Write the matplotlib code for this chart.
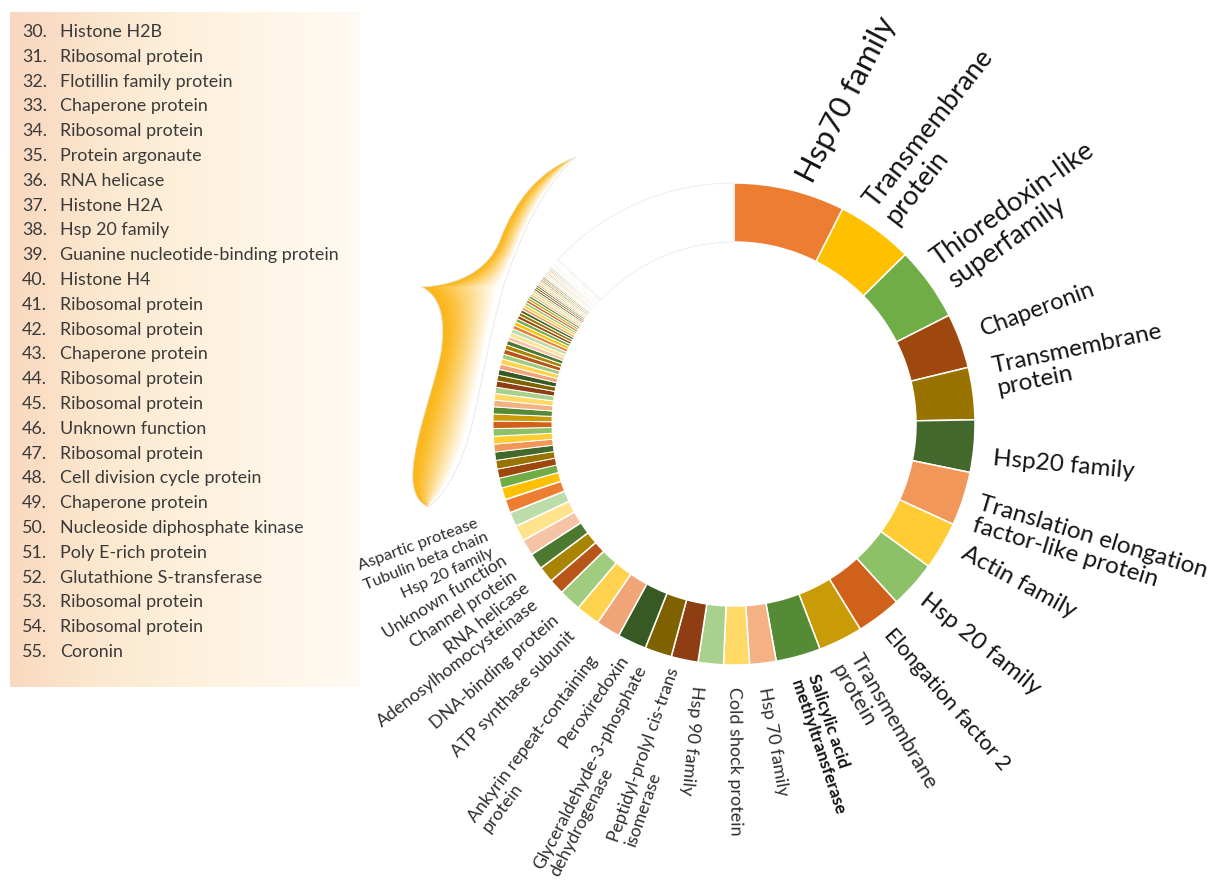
import numpy as np
import matplotlib
matplotlib.use("Agg")
import matplotlib.pyplot as plt
from matplotlib.path import Path
from matplotlib.patches import PathPatch
from matplotlib.colors import to_rgb

W, H = 1216, 882

# ---------------- data ----------------
ring_labels = [
    "Hsp70 family", "Transmembrane\nprotein", "Thioredoxin-like\nsuperfamily",
    "Chaperonin", "Transmembrane\nprotein", "Hsp20 family",
    "Translation elongation\nfactor-like protein", "Actin family", "Hsp 20 family",
    "Elongation factor 2", "Transmembrane\nprotein", "Salicylic acid\nmethyltransferase",
    "Hsp 70 family", "Cold shock protein", "Hsp 90 family",
    "Peptidyl-prolyl cis-trans\nisomerase", "Glyceraldehyde-3-phosphate\ndehydrogenase",
    "Peroxiredoxin", "Ankyrin repeat-containing\nprotein", "ATP synthase subunit",
    "DNA-binding protein", "Adenosylhomocysteinase", "RNA helicase",
    "Channel protein", "Unknown function", "Hsp 20 family", "Tubulin beta chain",
    "Aspartic protease", "",
]
ring_values = [26.8, 18.5, 17.9, 13.2, 12.6, 12.6, 13.0, 11.6, 11.4, 10.8,
               10.7, 10.8, 6.4, 6.2, 6.1, 6.5, 6.5, 7.0, 5.9, 5.8,
               5.4, 3.7, 3.9, 3.9, 3.9, 3.8, 3.5, 3.3, 2.9]

legend_numbers = [30, 31, 32, 33, 34, 35, 36, 37, 38, 39, 40, 41, 42,
                  43, 44, 45, 46, 47, 48, 49, 50, 51, 52, 53, 54, 55]
legend_names = [
    "Histone H2B", "Ribosomal protein", "Flotillin family protein", "Chaperone protein",
    "Ribosomal protein", "Protein argonaute", "RNA helicase", "Histone H2A",
    "Hsp 20 family", "Guanine nucleotide-binding protein", "Histone H4",
    "Ribosomal protein", "Ribosomal protein", "Chaperone protein", "Ribosomal protein",
    "Ribosomal protein", "Unknown function", "Ribosomal protein",
    "Cell division cycle protein", "Chaperone protein", "Nucleoside diphosphate kinase",
    "Poly E-rich protein", "Glutathione S-transferase", "Ribosomal protein",
    "Ribosomal protein", "Coronin",
]
legend_values = [2.4, 2.2, 2.1, 2.0, 1.9, 1.9, 1.8, 1.8, 1.7, 1.7, 1.6, 1.6, 1.5,
                 1.5, 1.4, 1.4, 1.3, 1.3, 1.2, 1.2, 1.1, 1.1, 1.0, 1.0, 1.0, 0.9]
tail_values = [0.9, 0.85, 0.8, 0.8, 0.75, 0.7, 0.7, 0.65, 0.65, 0.6, 0.6, 0.55,
               0.55, 0.5, 0.5, 0.5, 0.45, 0.45, 0.45, 0.4, 0.4, 0.4, 0.4, 0.35,
               0.35, 0.35, 0.35, 0.3, 0.3, 0.3, 0.3, 0.3, 0.25, 0.25, 0.25, 0.25,
               0.25, 0.2, 0.2, 0.2, 0.2, 0.2, 0.2]
others_value = 46.9

palette = ["#ED7D31", "#FFC000", "#70AD47", "#9E480E", "#997300", "#43682B",
           "#F1975A", "#FFCD33", "#8CC168", "#D0611B", "#C99B06", "#558A37",
           "#F4B183", "#FFD966", "#A9D18E", "#8E3E12", "#7F6200", "#375A24",
           "#F2A479", "#FFD34D", "#A0CC80", "#B8561A", "#A88400", "#4C7830",
           "#F6C3A5", "#FFE38C", "#BCDDAA"]

# ---------------- label layout ----------------
lab_gap = [13, 16, 17, 24, 24, 20, 17, 21, 16, 17, 20, 22, 24, 22, 23,
           11, 19, 16, 32, 23, 22, 25, 22, 25, 25, 32, 30, 34]
lab_ang_adj = [2.8, -1.4, -0.3, -0.6, -2.7, 2.2, 2.3, -1.3, 0.8, 0.5, 1.0, 0.0,
               0.5, 0.6, 2.5, -0.1, 0.4, 0.0, -2.5, 0.2, -0.6, 0.2, 0.5, 0.2,
               0.2, -1.0, -1.2, -1.1]
lab_rot_adj = [-14, -2, 0, 0, 4.5, 0, 1.4, 1.8, 3, 4, 4, 3, 3, 0, 0,
               -7.5, -9, -10, -5.5, -7, -6, -5, 0, -1, 1, -2, -1.4, 0]
lab_fs = [22.5, 19.5, 19.5, 17, 17.5, 17.5, 17.5, 17.5, 17.5, 15.5, 15.5, 12.5,
          13, 13, 13, 12.6, 12.8, 12.8, 12.8, 12.8, 12.8, 12.8, 12.8, 12.8, 12.5,
          11.8, 11.8, 11.8]

plt.rcParams['font.family'] = ['Lato', 'DejaVu Sans']

fig = plt.figure(figsize=(W / 100, H / 100), dpi=100)
fig.patch.set_facecolor("white")
ax = fig.add_axes([0, 0, 1, 1])

CX, CY = 734, H - 424
R_OUT, RING_W = 241, 59

# ---------------- legend box with gradient ----------------
gx = np.linspace(0, 1, 256)
gy = np.linspace(0, 1, 128)[:, None]
stops_t = [0.0, 0.25, 0.6, 1.0]
stops_c = np.array([to_rgb(c) for c in ["#F9D9BF", "#FCE8CF", "#FEF3E0", "#FFFAF3"]])
row = np.stack([np.interp(gx, stops_t, stops_c[:, k]) for k in range(3)], axis=-1)
grad = np.repeat(row[None, :, :], 128, axis=0)
pink = np.array(to_rgb("#F8D5C3"))
wpink = np.clip(1 - gx[None, :] * 2.5, 0, 1) * np.clip(1 - gy * 3.0, 0, 1)
grad = grad * (1 - wpink[..., None] * 0.5) + pink * (wpink[..., None] * 0.5)
ax.imshow(grad, extent=(10, 360, H - 687, H - 12), origin="upper",
          interpolation="bilinear", zorder=0, aspect="auto")

for k, (num, name) in enumerate(zip(legend_numbers, legend_names)):
    yy = H - (32 + 24.8 * k)
    ax.text(22, yy, f"{num}.", fontsize=12.9, va="center", ha="left", color="#3a3a3a")
    ax.text(60, yy, name, fontsize=12.9, va="center", ha="left", color="#3a3a3a")

# ---------------- brace ----------------
pts = [(576, 157),
       (540, 170), (515, 200), (500, 240),
       (488, 270), (460, 285), (421, 287),
       (440, 295), (447, 320), (440, 357),
       (430, 400), (410, 450), (413, 483),
       (415, 497), (420, 503), (428, 507),
       (445, 495), (462, 465), (472, 425),
       (485, 370), (495, 300), (515, 255),
       (530, 215), (550, 180), (576, 157),
       (576, 157)]
codes = [Path.MOVETO] + [Path.CURVE4] * 24 + [Path.CLOSEPOLY]
brace_path = Path([(x, H - y) for x, y in pts], codes)
x0, x1, y0, y1 = 400, 590, 145, 520
xs = np.arange(x0, x1) + 0.5
ys = np.arange(y0, y1) + 0.5
XX, YY = np.meshgrid(xs, H - ys)
inside = brace_path.contains_points(np.c_[XX.ravel(), YY.ravel()]).reshape(XX.shape)
gold = np.array(to_rgb("#FBB81E"))
img = np.ones(XX.shape + (3,))
for r in range(XX.shape[0]):
    idx = np.where(inside[r])[0]
    if len(idx) < 2:
        continue
    lo, hi = xs[idx[0]], xs[idx[-1]]
    t = np.clip(((xs - lo) / max(hi - lo, 1) - 0.08) / 0.85, 0, 1) ** 1.2
    img[r] = gold[None, :] * (1 - t[:, None]) + np.ones(3)[None, :] * t[:, None]
bp = PathPatch(brace_path, facecolor="none", edgecolor="#E6E6E6", lw=0.6, zorder=3)
ax.add_patch(bp)
im = ax.imshow(img, extent=(x0, x1, H - y1, H - y0), origin="upper",
               interpolation="bilinear", zorder=2, aspect="auto")
im.set_clip_path(bp)

# ---------------- ring ----------------
values = ring_values + legend_values + tail_values + [others_value]
n_col = len(values) - 1
colors = [palette[i % len(palette)] for i in range(n_col)] + ["white"]
wedges, _ = ax.pie(values, colors=colors, startangle=90, counterclock=False,
                   radius=R_OUT, center=(CX, CY), frame=True,
                   wedgeprops=dict(width=RING_W, edgecolor="white", linewidth=1.1))
for w in wedges[len(ring_values):]:
    w.set_linewidth(0.7)
wedges[-1].set_edgecolor("#EBEBEB")
wedges[-1].set_linewidth(0.6)

for i, text in enumerate(ring_labels):
    if not text:
        continue
    w = wedges[i]
    mid = 0.5 * (w.theta1 + w.theta2)
    clock = (90 - mid) % 360
    a = np.deg2rad(mid - lab_ang_adj[i])
    r = R_OUT + lab_gap[i]
    x, y = CX + r * np.cos(a), CY + r * np.sin(a)
    if clock < 189:
        rot, ha = mid + lab_rot_adj[i], "left"
    else:
        rot, ha = mid + 180 + lab_rot_adj[i], "right"
    rot = (rot + 180) % 360 - 180
    bold = i == 11
    col = "#141414" if i < 10 or bold else "#2e2e2e"
    ax.text(x, y, text, rotation=rot, rotation_mode="anchor", ha=ha, va="center",
            multialignment="left", fontsize=lab_fs[i], color=col,
            fontweight="bold" if bold else "normal", linespacing=1.1)

ax.set_xlim(0, W)
ax.set_ylim(0, H)
ax.set_aspect("equal")
ax.axis("off")
fig.savefig("out.png", dpi=100, facecolor="white")
